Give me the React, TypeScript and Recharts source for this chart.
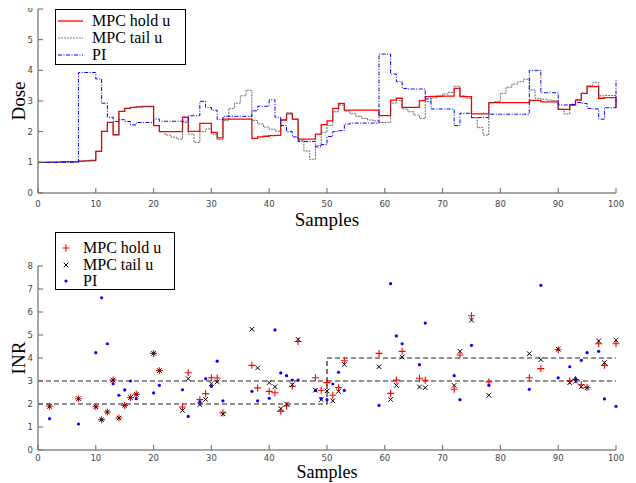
import React from 'react';
import {
  LineChart,
  ComposedChart,
  Line,
  Scatter,
  XAxis,
  YAxis,
  Label,
} from 'recharts';

// dose per sample (0..100), step signals
const holdDose = [
  1.0, 1.0, 1.01, 1.01, 1.02, 1.02, 1.02, 1.04, 1.05, 1.06,
  1.36, 2.01, 2.3, 1.9, 2.66, 2.76, 2.79, 2.81, 2.82, 2.82,
  2.2, 2.0, 2.0, 2.0, 2.0, 2.47, 2.01, 2.01, 2.27, 2.27,
  1.98, 1.8, 2.41, 2.41, 2.41, 2.41, 2.41, 1.78, 1.83, 1.85,
  1.87, 1.88, 2.38, 2.58, 2.41, 1.76, 1.76, 1.76, 1.92, 2.23,
  2.35, 2.76, 2.92, 2.7, 2.7, 2.7, 2.7, 2.7, 2.7, 2.52,
  2.52, 3.03, 3.09, 2.79, 2.79, 2.79, 3.01, 3.14, 3.15, 3.15,
  3.16, 3.16, 3.41, 3.14, 3.14, 2.58, 2.58, 2.58, 2.95, 2.95,
  2.95, 2.95, 2.95, 2.95, 2.95, 3.02, 3.02, 2.97, 2.97, 2.97,
  2.73, 2.73, 2.87, 3.03, 3.25, 3.47, 3.47, 3.09, 3.11, 3.11,
  2.79,
];

const tailDose = [
  1.0, 1.0, 1.01, 1.01, 1.02, 1.02, 1.02, 1.04, 1.05, 1.06,
  1.36, 2.01, 2.3, 1.9, 2.66, 2.76, 2.79, 2.81, 2.82, 2.82,
  2.2, 2.0, 1.89, 1.82, 1.76, 2.3, 1.92, 1.65, 2.0, 2.09,
  1.92, 1.74, 2.36, 2.76, 2.93, 3.17, 3.35, 2.36, 2.25, 2.15,
  2.08, 2.02, 2.38, 2.62, 2.4, 1.72, 1.37, 1.1, 1.55, 1.98,
  2.2, 2.65, 2.87, 2.67, 2.58, 2.5, 2.43, 2.38, 2.35, 2.3,
  2.3, 2.93, 3.01, 2.74, 2.65, 2.54, 2.43, 2.98, 3.1, 3.17,
  3.23, 3.28, 3.48, 3.17, 3.09, 2.45, 2.13, 1.89, 2.94, 2.98,
  3.25, 3.45, 3.55, 3.63, 3.71, 3.36, 3.09, 3.06, 3.03, 3.01,
  2.73, 2.58, 2.87, 3.05, 3.25, 3.5, 3.61, 3.17, 3.18, 3.18,
  2.79,
];

const piDose = [
  1.0, 1.0, 1.0, 1.0, 1.0, 1.0, 1.0, 3.93, 3.93, 3.93,
  3.72, 2.93, 2.47, 2.33, 2.39, 2.33, 2.22, 2.3, 2.3, 2.3,
  2.41, 2.34, 2.34, 2.34, 2.34, 2.34, 2.52, 2.52, 2.99, 2.79,
  2.7, 2.39, 2.5, 2.5, 2.5, 2.5, 2.5, 2.68, 2.83, 2.83,
  3.04, 2.47, 2.2, 2.0, 1.83, 1.68, 1.68, 1.68, 1.5, 1.58,
  1.84, 2.0, 2.03, 2.25, 2.28, 2.28, 2.28, 2.28, 2.28, 4.53,
  4.53, 3.88, 3.63, 3.41, 3.39, 3.39, 3.39, 3.07, 2.74, 2.74,
  2.74, 2.74, 2.2, 2.6, 2.6, 2.46, 2.46, 2.46, 2.57, 2.57,
  2.57, 2.57, 2.57, 2.57, 2.57, 4.0, 4.0, 3.27, 3.27, 3.27,
  2.87, 2.87, 2.89, 2.95, 2.92, 2.76, 2.74, 2.41, 2.78, 2.78,
  3.72,
];

// INR measurements
const inrSamples = [
  2, 7, 10, 11, 12, 13, 14, 15, 16, 17, 20, 21, 25, 26, 28, 29, 30, 31, 32,
  37, 38, 40, 41, 42, 43, 44, 45, 48, 49, 50, 51, 52, 53, 59, 61, 62, 63,
  66, 67, 72, 73, 75, 78, 85, 87, 90, 92, 93, 94, 95, 97, 98, 100,
];
const holdInr = [
  1.9, 2.23, 1.88, 1.32, 1.65, 3.04, 1.39, 1.94, 2.28, 2.42, 4.2, 3.45, 1.87,
  3.36, 2.19, 2.45, 3.14, 3.13, 1.61, 3.68, 2.7, 2.55, 2.49, 1.68, 1.91, 2.77,
  4.72, 3.14, 2.6, 2.93, 2.38, 2.71, 3.88, 4.2, 2.46, 3.04, 4.29, 3.12, 3.03,
  2.64, 4.13, 5.84, 2.96, 3.14, 3.54, 4.36, 3.01, 3.06, 2.84, 2.72, 4.62,
  3.68, 4.62,
];
const tailInr = [
  1.9, 2.23, 1.88, 1.32, 1.65, 3.04, 1.39, 1.94, 2.28, 2.42, 4.2, 3.45, 1.72,
  3.1, 1.97, 2.2, 2.88, 2.96, 1.57, 5.25, 3.57, 2.93, 2.75, 1.8, 2.0, 2.84,
  4.81, 2.6, 2.19, 2.57, 2.14, 2.55, 3.72, 3.62, 2.2, 2.81, 4.04, 2.74, 2.71,
  2.81, 4.29, 5.65, 2.38, 4.19, 3.93, 4.38, 2.93, 2.99, 2.75, 2.71, 4.74,
  3.8, 4.77,
];
const piInr = [
  1.36, 1.13, 4.23, 6.62, 4.62, 2.88, 2.38, 2.61, 3.0, 2.23, 2.48, 2.81, 2.62,
  1.46, 2.09, 3.1, 2.77, 3.86, 2.14, 2.55, 2.14, 2.25, 5.22, 3.35, 3.23, 3.04,
  3.04, 2.59, 2.23, 2.19, 2.87, 3.38, 2.59, 1.94, 7.23, 4.96, 4.62, 3.71,
  5.52, 3.23, 2.19, 4.55, 2.81, 2.64, 7.16, 3.14, 3.62, 3.1, 3.9, 4.23, 4.29,
  2.22, 1.9,
];

// therapeutic range, changes at sample 50
const rangeSamples = [0, 50, 100];
const rangeLow = [2, 3, 3];
const rangeHigh = [3, 4, 4];

const sampleTicks = [0, 10, 20, 30, 40, 50, 60, 70, 80, 90, 100];
const doseTicks = [0, 1, 2, 3, 4, 5, 6];
const inrTicks = [0, 1, 2, 3, 4, 5, 6, 7, 8];

const doseRows = holdDose.map((v, i) => ({
  s: i,
  hold: v,
  tail: tailDose[i],
  pi: piDose[i],
}));
const toXY = (ys: number[], xs: number[]) => ys.map((y, i) => ({ x: xs[i], y }));
const holdPts = toXY(holdInr, inrSamples);
const tailPts = toXY(tailInr, inrSamples);
const piPts = toXY(piInr, inrSamples);
const lowRows = toXY(rangeLow, rangeSamples);
const highRows = toXY(rangeHigh, rangeSamples);

const SERIF = '"Liberation Serif", "Times New Roman", serif';
const SANS = '"DejaVu Sans", sans-serif';
const AXIS = { stroke: '#8a8a8a', strokeWidth: 1.5 };

const makeXTick = (gap: number) => (props: any) => {
  const { x, y, payload } = props;
  return (
    <g>
      <line x1={x} x2={x} y1={y} y2={y - 5} stroke="#666" strokeWidth={1} />
      <text x={x} y={y + gap} textAnchor="middle" fontSize={8.5} fontFamily={SANS} fill="#444">
        {payload.value}
      </text>
    </g>
  );
};

const yTick = (props: any) => {
  const { x, y, payload } = props;
  return (
    <g>
      <line x1={x} x2={x + 5} y1={y} y2={y} stroke="#666" strokeWidth={1} />
      <text x={x - 5} y={y + 3} textAnchor="end" fontSize={8.5} fontFamily={SANS} fill="#444">
        {payload.value}
      </text>
    </g>
  );
};

const xTitle = (dy: number, size: number) => (props: any) => {
  const vb = props.viewBox;
  return (
    <text x={vb.x + vb.width / 2} y={vb.y + dy} textAnchor="middle" fontSize={size} fontFamily={SERIF} fill="#000">
      Samples
    </text>
  );
};

const yTitle = (text: string) => (props: any) => {
  const vb = props.viewBox;
  const cy = vb.y + vb.height / 2;
  return (
    <text
      x={18}
      y={cy}
      transform={`rotate(-90, 18, ${cy})`}
      textAnchor="middle"
      dominantBaseline="central"
      fontSize={19}
      fontFamily={SERIF}
      fill="#000"
    >
      {text}
    </text>
  );
};

const Plus = (p: any) => (
  <path d={`M${p.cx - 3.5},${p.cy}H${p.cx + 3.5}M${p.cx},${p.cy - 3.5}V${p.cy + 3.5}`} stroke="#ff0000" strokeWidth={1.1} />
);
const Cross = (p: any) => (
  <path
    d={`M${p.cx - 2.3},${p.cy - 2.3}L${p.cx + 2.3},${p.cy + 2.3}M${p.cx - 2.3},${p.cy + 2.3}L${p.cx + 2.3},${p.cy - 2.3}`}
    stroke="#000"
    strokeWidth={1}
  />
);
const Dot = (p: any) => <circle cx={p.cx} cy={p.cy} r={1.6} fill="#0000ff" />;

function TopLegend() {
  return (
    <svg width={132} height={57} style={{ position: 'absolute', left: 55, top: 9 }}>
      <rect x={0.5} y={0.5} width={130} height={55} fill="#fff" stroke="#000" />
      <line x1={3} x2={28} y1={12} y2={12} stroke="#ff0000" strokeWidth={1.3} />
      <line x1={3} x2={28} y1={29} y2={29} stroke="#555" strokeWidth={0.8} strokeDasharray="2 1" />
      <line x1={3} x2={28} y1={46} y2={46} stroke="#0000ff" strokeWidth={1} strokeDasharray="4 1.5 1 1.5" />
      <g fontFamily={SERIF} fontSize={16} fill="#000">
        <text x={37} y={17}>MPC hold u</text>
        <text x={37} y={34}>MPC tail u</text>
        <text x={37} y={51}>PI</text>
      </g>
    </svg>
  );
}

function BottomLegend() {
  return (
    <svg width={121} height={59} style={{ position: 'absolute', left: 55, top: 232 }}>
      <rect x={0.5} y={0.5} width={119} height={57} fill="#fff" stroke="#000" />
      <Plus cx={11} cy={16} />
      <Cross cx={11} cy={33} />
      <Dot cx={11} cy={49} />
      <g fontFamily={SERIF} fontSize={16} fill="#000">
        <text x={28} y={21}>MPC hold u</text>
        <text x={28} y={38}>MPC tail u</text>
        <text x={28} y={54}>PI</text>
      </g>
    </svg>
  );
}

export default function App() {
  return (
    <div style={{ position: 'relative', width: 636, height: 483, margin: '-8px 0 0 -8px', background: '#fff' }}>
      <div style={{ position: 'absolute', left: 0, top: 0 }}>
        <LineChart width={636} height={236} data={doseRows} margin={{ top: 9, right: 20, bottom: 8, left: 0 }}>
          <XAxis
            dataKey="s"
            type="number"
            domain={[0, 100]}
            ticks={sampleTicks}
            interval={0}
            height={35}
            tickSize={0}
            tickMargin={0}
            tick={makeXTick(14)}
            axisLine={AXIS}
          >
            <Label content={xTitle(33, 19)} />
          </XAxis>
          <YAxis
            type="number"
            domain={[0, 6]}
            ticks={doseTicks}
            interval={0}
            width={38}
            tickSize={0}
            tickMargin={0}
            tick={yTick}
            axisLine={AXIS}
          >
            <Label content={yTitle('Dose')} />
          </YAxis>
          <Line type="stepAfter" dataKey="hold" stroke="#ff0000" strokeWidth={1.3} dot={false} isAnimationActive={false} />
          <Line type="stepAfter" dataKey="tail" stroke="#444" strokeWidth={0.8} strokeDasharray="2 1" dot={false} isAnimationActive={false} />
          <Line type="stepAfter" dataKey="pi" stroke="#0000ff" strokeWidth={1} strokeDasharray="4 1.5 1 1.5" dot={false} isAnimationActive={false} />
        </LineChart>
      </div>
      <div style={{ position: 'absolute', left: 0, top: 228 }}>
        <ComposedChart width={636} height={255} margin={{ top: 38, right: 20, bottom: 0, left: 0 }}>
          <XAxis
            dataKey="x"
            type="number"
            domain={[0, 100]}
            ticks={sampleTicks}
            interval={0}
            height={33}
            tickSize={0}
            tickMargin={0}
            tick={makeXTick(10.5)}
            axisLine={AXIS}
          >
            <Label content={xTitle(28, 18)} />
          </XAxis>
          <YAxis
            dataKey="y"
            type="number"
            domain={[0, 8]}
            ticks={inrTicks}
            interval={0}
            width={38}
            tickSize={0}
            tickMargin={0}
            tick={yTick}
            axisLine={AXIS}
          >
            <Label content={yTitle('INR')} />
          </YAxis>
          <Line data={lowRows} type="stepAfter" dataKey="y" stroke="#222" strokeWidth={1.2} strokeDasharray="5 3" dot={false} isAnimationActive={false} />
          <Line data={highRows} type="stepAfter" dataKey="y" stroke="#222" strokeWidth={1.2} strokeDasharray="5 3" dot={false} isAnimationActive={false} />
          <Scatter data={holdPts} dataKey="y" shape={Plus} isAnimationActive={false} />
          <Scatter data={tailPts} dataKey="y" shape={Cross} isAnimationActive={false} />
          <Scatter data={piPts} dataKey="y" shape={Dot} isAnimationActive={false} />
        </ComposedChart>
      </div>
      <TopLegend />
      <BottomLegend />
    </div>
  );
}
